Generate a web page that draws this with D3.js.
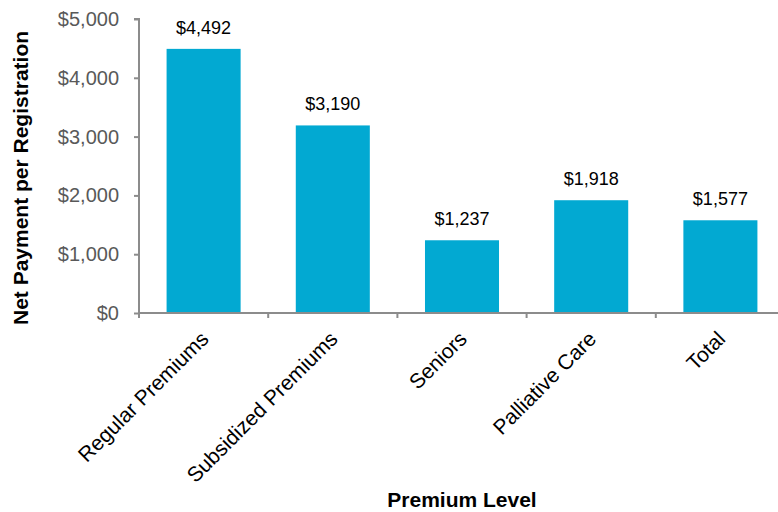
<!DOCTYPE html>
<html>
<head>
<meta charset="utf-8">
<script src="https://cdn.jsdelivr.net/npm/d3@7"></script>
<style>
  body { margin: 0; background: #fff; }
  svg { display: block; font-family: "Liberation Sans", Arial, sans-serif; }
</style>
</head>
<body>
<svg width="778" height="512"></svg>
<script>
// chart data
const categories = ["Regular Premiums", "Subsidized Premiums", "Seniors", "Palliative Care", "Total"];
const payments = [4492, 3190, 1237, 1918, 1577];
const yTicks = [0, 1000, 2000, 3000, 4000, 5000];

const svg = d3.select("svg");
const plotLeft = 139, plotRight = 785, plotTop = 19, plotBottom = 313;

const x = d3.scaleBand()
  .domain(categories)
  .range([plotLeft, plotRight])
  .padding(0);

const y = d3.scaleLinear()
  .domain([0, 5000])
  .range([plotBottom, plotTop]);

const fmt = d => "$" + d3.format(",")(d);
const barW = x.bandwidth() * 0.573;
const axisColor = "#8c8c8c";

// y axis
const yAxis = svg.append("g")
  .attr("transform", `translate(${plotLeft},0)`)
  .call(d3.axisLeft(y).tickValues(yTicks).tickFormat(fmt).tickSize(5).tickPadding(15));
yAxis.select(".domain").attr("stroke", axisColor).attr("stroke-width", 2)
  .attr("d", `M-5,${plotTop}H0V${plotBottom + 5}`);
yAxis.selectAll(".tick line").attr("stroke", axisColor).attr("stroke-width", 2);
yAxis.selectAll(".tick text")
  .attr("fill", "#595959")
  .style("font-size", "20px");

// bars
svg.append("g")
  .selectAll("rect")
  .data(payments)
  .join("rect")
    .attr("x", (d, i) => x(categories[i]) + (x.bandwidth() - barW) / 2)
    .attr("y", d => y(d))
    .attr("width", barW)
    .attr("height", d => y(0) - y(d))
    .attr("fill", "#02a9d2");

// value labels
svg.append("g")
  .selectAll("text")
  .data(payments)
  .join("text")
    .attr("x", (d, i) => x(categories[i]) + x.bandwidth() / 2)
    .attr("y", d => y(d) - 15)
    .attr("text-anchor", "middle")
    .attr("fill", "#000")
    .style("font-size", "18px")
    .text(fmt);

// x axis line + boundary ticks
const xAxis = svg.append("g");
xAxis.append("line")
  .attr("x1", plotLeft).attr("x2", 778)
  .attr("y1", plotBottom).attr("y2", plotBottom)
  .attr("stroke", axisColor).attr("stroke-width", 2);
xAxis.selectAll(".bt")
  .data(categories.slice(1))
  .join("line")
    .attr("class", "bt")
    .attr("x1", d => x(d)).attr("x2", d => x(d))
    .attr("y1", plotBottom).attr("y2", plotBottom + 5)
    .attr("stroke", axisColor).attr("stroke-width", 2);

// rotated category labels
xAxis.selectAll(".cl")
  .data(categories)
  .join("text")
    .attr("class", "cl")
    .attr("transform", d => `translate(${x(d) + x.bandwidth() / 2 + 1},${plotBottom + 22}) rotate(-45)`)
    .attr("text-anchor", "end")
    .attr("dy", "0.35em")
    .attr("fill", "#000")
    .style("font-size", "21px")
    .text(d => d);

// axis titles
svg.append("text")
  .attr("transform", `translate(28,${(plotTop + plotBottom) / 2 + 12}) rotate(-90)`)
  .attr("text-anchor", "middle")
  .attr("font-weight", "bold")
  .style("font-size", "21px")
  .text("Net Payment per Registration");

svg.append("text")
  .attr("x", 462)
  .attr("y", 507)
  .attr("text-anchor", "middle")
  .attr("font-weight", "bold")
  .style("font-size", "21px")
  .text("Premium Level");
</script>
</body>
</html>
